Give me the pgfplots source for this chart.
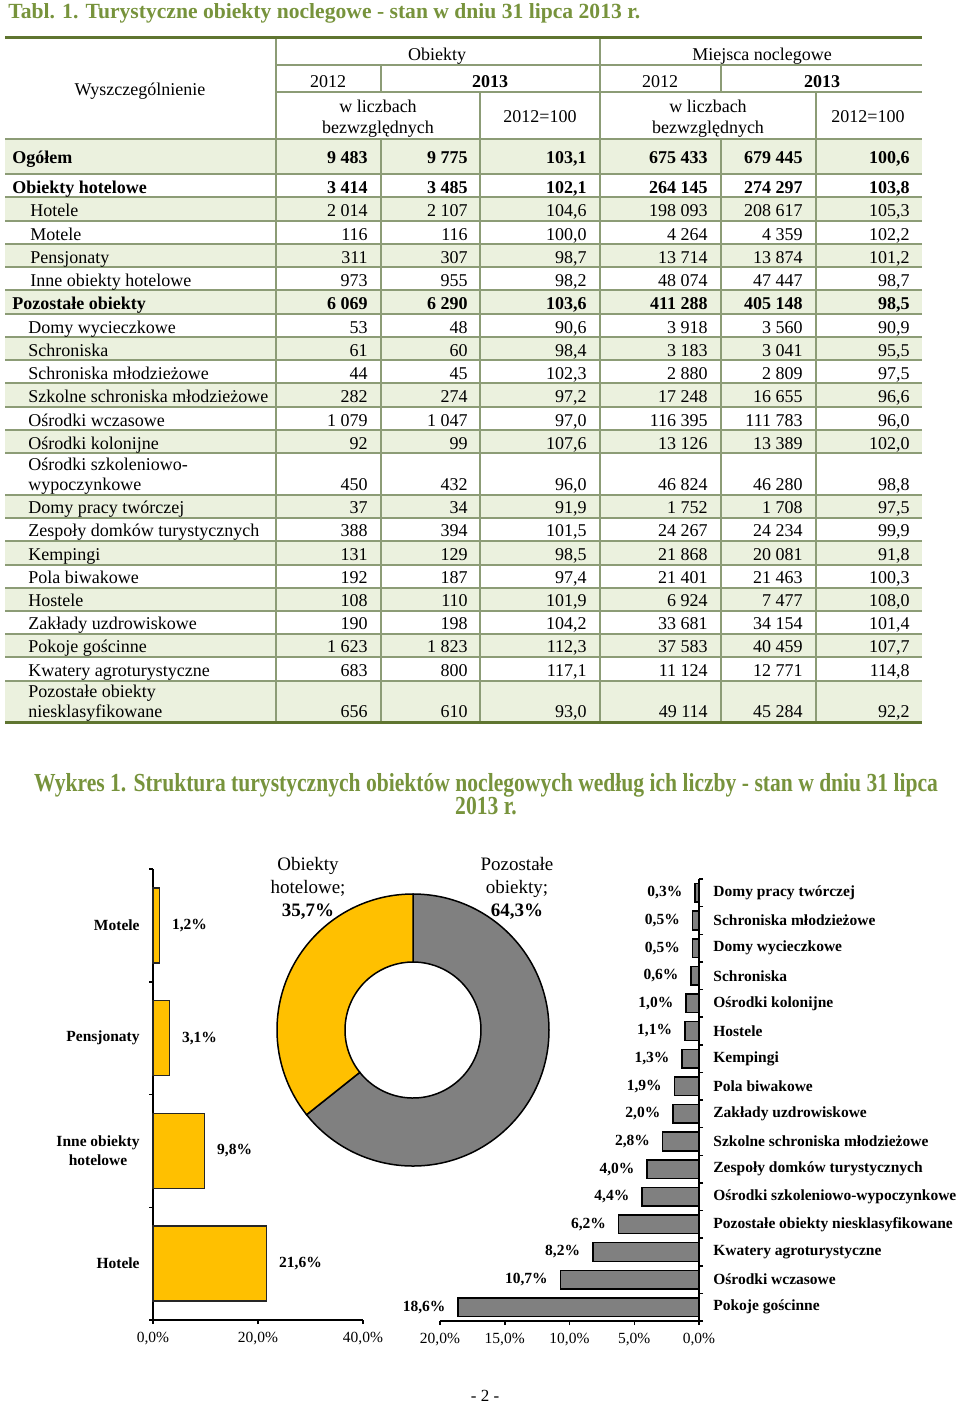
\documentclass[border=0pt]{standalone}
\usepackage{fontspec}
\setmainfont{Liberation Serif}
\newfontfamily\captfont[FakeStretch=0.83]{Liberation Serif}
\usepackage{pgfplots}
\pgfplotsset{compat=1.18}
\definecolor{tgreen}{HTML}{77933C}
\definecolor{tshade}{HTML}{EBF1DE}
\definecolor{tline}{HTML}{8C9C76}
\definecolor{tthick}{HTML}{5F7530}
\definecolor{gold}{HTML}{FFC000}
\definecolor{gbar}{HTML}{808080}
\newcommand\fpx[1]{\fontsize{\fpeval{#1/2}pt}{\fpeval{#1*0.6}pt}\selectfont}
\newcommand\trow[4]{\def\ry{#1}\def\rf{#3}\node[lbl] at (#2,#1) {\rf #4};\trownums}
\newcommand\trownums[6]{%
 \node[num] at (368,\ry) {\rf #1};\node[num] at (468,\ry) {\rf #2};
 \node[num] at (587,\ry) {\rf #3};\node[num] at (708,\ry) {\rf #4};
 \node[num] at (803,\ry) {\rf #5};\node[num] at (910,\ry) {\rf #6};}
\begin{document}
\begin{tikzpicture}[x=0.5pt,y=-0.5pt,
  lbl/.style={anchor=base west, inner sep=0pt, font=\fpx{18}},
  num/.style={anchor=base east, inner sep=0pt, font=\fpx{18}},
  hd/.style={anchor=base, inner sep=0pt, font=\fpx{18}}]
\path[use as bounding box] (0,0) rectangle (960,1404);
% ---------- title
\node[anchor=base west, inner sep=0pt, text=tgreen, font=\fpx{21.6}\bfseries] at (8,18)
  {Tabl. 1. Turystyczne obiekty noclegowe - stan w dniu 31 lipca 2013 r.};
% ---------- table shading
\foreach \a/\b in {139/174,197/221,244/267,290/314,337/360,383/407,430/453,495/518,541/565,588/611,634/657,681/722}
  \fill[tshade] (5,\a) rectangle (922,\b);
% ---------- table lines
\begin{scope}[tline, line width=0.75pt]
\foreach \yy in {139,174,197,221,244,267,290,314,337,360,383,407,430,453,495,518,541,565,588,611,634,657,681}
  \draw (5,\yy) -- (922,\yy);
\draw (276,65) -- (922,65);
\draw (276,92) -- (922,92);
\draw (276,37) -- (276,722);
\draw (600,37) -- (600,722);
\draw (381,65) -- (381,92);
\draw (381,139) -- (381,722);
\draw (721,65) -- (721,92);
\draw (721,139) -- (721,722);
\draw (480,92) -- (480,722);
\draw (816,92) -- (816,722);
\end{scope}
\draw[tthick, line width=1.5pt] (5,37) -- (922,37);
\draw[tthick, line width=1.5pt] (5,722) -- (922,722);
% ---------- header
\node[hd] at (140,95) {Wyszczególnienie};
\node[hd] at (437,60) {Obiekty};
\node[hd] at (762,60) {Miejsca noclegowe};
\node[hd] at (328,87) {2012};
\node[hd] at (490,87) {\bfseries 2013};
\node[hd] at (660,87) {2012};
\node[hd] at (822,87) {\bfseries 2013};
\node[hd] at (378,112) {w liczbach};
\node[hd] at (378,133) {bezwzględnych};
\node[hd] at (540,122) {2012=100};
\node[hd] at (708,112) {w liczbach};
\node[hd] at (708,133) {bezwzględnych};
\node[hd] at (868,122) {2012=100};
% ---------- rows
\trow{163}{12}{\bfseries}{Ogółem}{9 483}{9 775}{103,1}{675 433}{679 445}{100,6}
\trow{193}{12}{\bfseries}{Obiekty hotelowe}{3 414}{3 485}{102,1}{264 145}{274 297}{103,8}
\trow{216.5}{30}{}{Hotele}{2 014}{2 107}{104,6}{198 093}{208 617}{105,3}
\trow{240}{30}{}{Motele}{116}{116}{100,0}{4 264}{4 359}{102,2}
\trow{263}{30}{}{Pensjonaty}{311}{307}{98,7}{13 714}{13 874}{101,2}
\trow{286}{30}{}{Inne obiekty hotelowe}{973}{955}{98,2}{48 074}{47 447}{98,7}
\trow{309.5}{12}{\bfseries}{Pozostałe obiekty}{6 069}{6 290}{103,6}{411 288}{405 148}{98,5}
\trow{333}{28}{}{Domy wycieczkowe}{53}{48}{90,6}{3 918}{3 560}{90,9}
\trow{356}{28}{}{Schroniska}{61}{60}{98,4}{3 183}{3 041}{95,5}
\trow{379}{28}{}{Schroniska młodzieżowe}{44}{45}{102,3}{2 880}{2 809}{97,5}
\trow{402.5}{28}{}{Szkolne schroniska młodzieżowe}{282}{274}{97,2}{17 248}{16 655}{96,6}
\trow{426}{28}{}{Ośrodki wczasowe}{1 079}{1 047}{97,0}{116 395}{111 783}{96,0}
\trow{449}{28}{}{Ośrodki kolonijne}{92}{99}{107,6}{13 126}{13 389}{102,0}
\node[lbl] at (28,470) {Ośrodki szkoleniowo-};
\trow{490}{28}{}{wypoczynkowe}{450}{432}{96,0}{46 824}{46 280}{98,8}
\trow{513.5}{28}{}{Domy pracy twórczej}{37}{34}{91,9}{1 752}{1 708}{97,5}
\trow{536.5}{28}{}{Zespoły domków turystycznych}{388}{394}{101,5}{24 267}{24 234}{99,9}
\trow{560}{28}{}{Kempingi}{131}{129}{98,5}{21 868}{20 081}{91,8}
\trow{583}{28}{}{Pola biwakowe}{192}{187}{97,4}{21 401}{21 463}{100,3}
\trow{606.5}{28}{}{Hostele}{108}{110}{101,9}{6 924}{7 477}{108,0}
\trow{629.5}{28}{}{Zakłady uzdrowiskowe}{190}{198}{104,2}{33 681}{34 154}{101,4}
\trow{652.5}{28}{}{Pokoje gościnne}{1 623}{1 823}{112,3}{37 583}{40 459}{107,7}
\trow{676}{28}{}{Kwatery agroturystyczne}{683}{800}{117,1}{11 124}{12 771}{114,8}
\node[lbl] at (28,697) {Pozostałe obiekty};
\trow{717}{28}{}{niesklasyfikowane}{656}{610}{93,0}{49 114}{45 284}{92,2}
% ---------- chart caption
\node[anchor=base, inner sep=0pt, text=tgreen, font=\captfont\fpx{26}\bfseries] at (486,791)
  {Wykres 1. Struktura turystycznych obiektów noclegowych według ich liczby - stan w dniu 31 lipca};
\node[anchor=base, inner sep=0pt, text=tgreen, font=\captfont\fpx{26}\bfseries] at (486,814) {2013 r.};
% ---------- left bar chart (hotel objects)
\coordinate (LA) at (153,1320);
\begin{axis}[at={(LA)}, anchor=south west, scale only axis, width=105pt, height=225.5pt,
  xbar, bar width=37.5pt, xmin=0, xmax=40, ymin=0.5, ymax=4.5, enlargelimits=false,
  axis x line*=bottom, axis y line*=left,
  axis line style={black, line width=0.75pt},
  tick style={black, line width=0.75pt}, tick align=outside, major tick length=2pt,
  xtick={0,20,40}, xticklabels={{0,0\%},{20,0\%},{40,0\%}},
  xticklabel style={font=\fpx{15.5}, inner sep=0pt, yshift=-4pt},
  ytick={0.5,1.5,2.5,3.5,4.5}, y tick label as interval,
  yticklabels={Hotele,{Inne obiekty\\hotelowe},Pensjonaty,Motele},
  yticklabel style={font=\fpx{15.5}\bfseries, align=center, inner sep=0pt, xshift=-4.5pt},
  nodes near coords={\pgfmathprintnumber[assume math mode=true,fixed,fixed zerofill,precision=1,use comma]{\pgfplotspointmeta}\%},
  nodes near coords style={font=\fpx{15.5}\bfseries, inner sep=0pt, xshift=6pt},
  clip=false]
\addplot[fill=gold, draw=black!85, line width=0.75pt] coordinates {(21.6,1) (9.8,2) (3.1,3) (1.2,4)};
\end{axis}
% ---------- donut
\pgfmathsetmacro\aEnd{90+3.6*35.7}
\coordinate (DC) at (413,1030);
\begin{axis}[at={(DC)}, anchor=center, scale only axis, width=20pt, height=20pt,
  hide axis, xmin=-1, xmax=1, ymin=-1, ymax=1, clip=false]
\filldraw[fill=gbar, draw=black, line width=0.75pt] (axis cs:0,0) ++(90:68pt)
  arc[start angle=90, end angle=\aEnd-360, radius=68pt] -- ++(\aEnd+180:34pt)
  arc[start angle=\aEnd-360, end angle=90, radius=34pt] -- cycle;
\filldraw[fill=gold, draw=black, line width=0.75pt] (axis cs:0,0) ++(90:68pt)
  arc[start angle=90, end angle=\aEnd, radius=68pt] -- ++(\aEnd+180:34pt)
  arc[start angle=\aEnd, end angle=90, radius=34pt] -- cycle;
\end{axis}
\node[anchor=north, align=center, inner sep=0pt, font=\fpx{19}] at (308,857) {Obiekty\\hotelowe;\\\textbf{35,7\%}};
\node[anchor=north, align=center, inner sep=0pt, font=\fpx{19}] at (517,857) {Pozostałe\\obiekty;\\\textbf{64,3\%}};
% ---------- right bar chart (other objects)
\coordinate (RA) at (699,1321);
\begin{axis}[at={(RA)}, anchor=south east, scale only axis, width=129.5pt, height=221pt,
  xbar, bar width=9.3pt, x dir=reverse, xmin=0, xmax=20, ymin=0.5, ymax=16.5, enlargelimits=false,
  axis x line*=bottom, axis y line*=right,
  axis line style={black, line width=0.75pt},
  tick style={black, line width=0.75pt}, tick align=outside, major tick length=2pt,
  xtick={0,5,10,15,20}, xticklabels={{0,0\%},{5,0\%},{10,0\%},{15,0\%},{20,0\%}},
  xticklabel style={font=\fpx{15.5}, inner sep=0pt, yshift=-4pt},
  ytick={0.5,1.5,...,16.5}, y tick label as interval,
  yticklabels={Pokoje gościnne,Ośrodki wczasowe,Kwatery agroturystyczne,Pozostałe obiekty niesklasyfikowane,Ośrodki szkoleniowo-wypoczynkowe,Zespoły domków turystycznych,Szkolne schroniska młodzieżowe,Zakłady uzdrowiskowe,Pola biwakowe,Kempingi,Hostele,Ośrodki kolonijne,Schroniska,Domy wycieczkowe,Schroniska młodzieżowe,Domy pracy twórczej},
  yticklabel style={font=\fpx{15.5}\bfseries, anchor=west, inner sep=0pt, xshift=5pt},
  nodes near coords={\pgfmathprintnumber[assume math mode=true,fixed,fixed zerofill,precision=1,use comma]{\pgfplotspointmeta}\%},
  nodes near coords style={font=\fpx{15.5}\bfseries, inner sep=0pt, anchor=east, xshift=-6pt},
  clip=false]
\addplot[fill=gbar, draw=black, line width=0.75pt] coordinates {
 (18.6,1) (10.7,2) (8.2,3) (6.2,4) (4.4,5) (4.0,6) (2.8,7) (2.0,8)
 (1.9,9) (1.3,10) (1.1,11) (1.0,12) (0.6,13) (0.5,14) (0.5,15) (0.3,16)};
\end{axis}
% ---------- footer
\node[anchor=base, inner sep=0pt, font=\fpx{17}] at (485,1401) {- 2 -};
\end{tikzpicture}
\end{document}
